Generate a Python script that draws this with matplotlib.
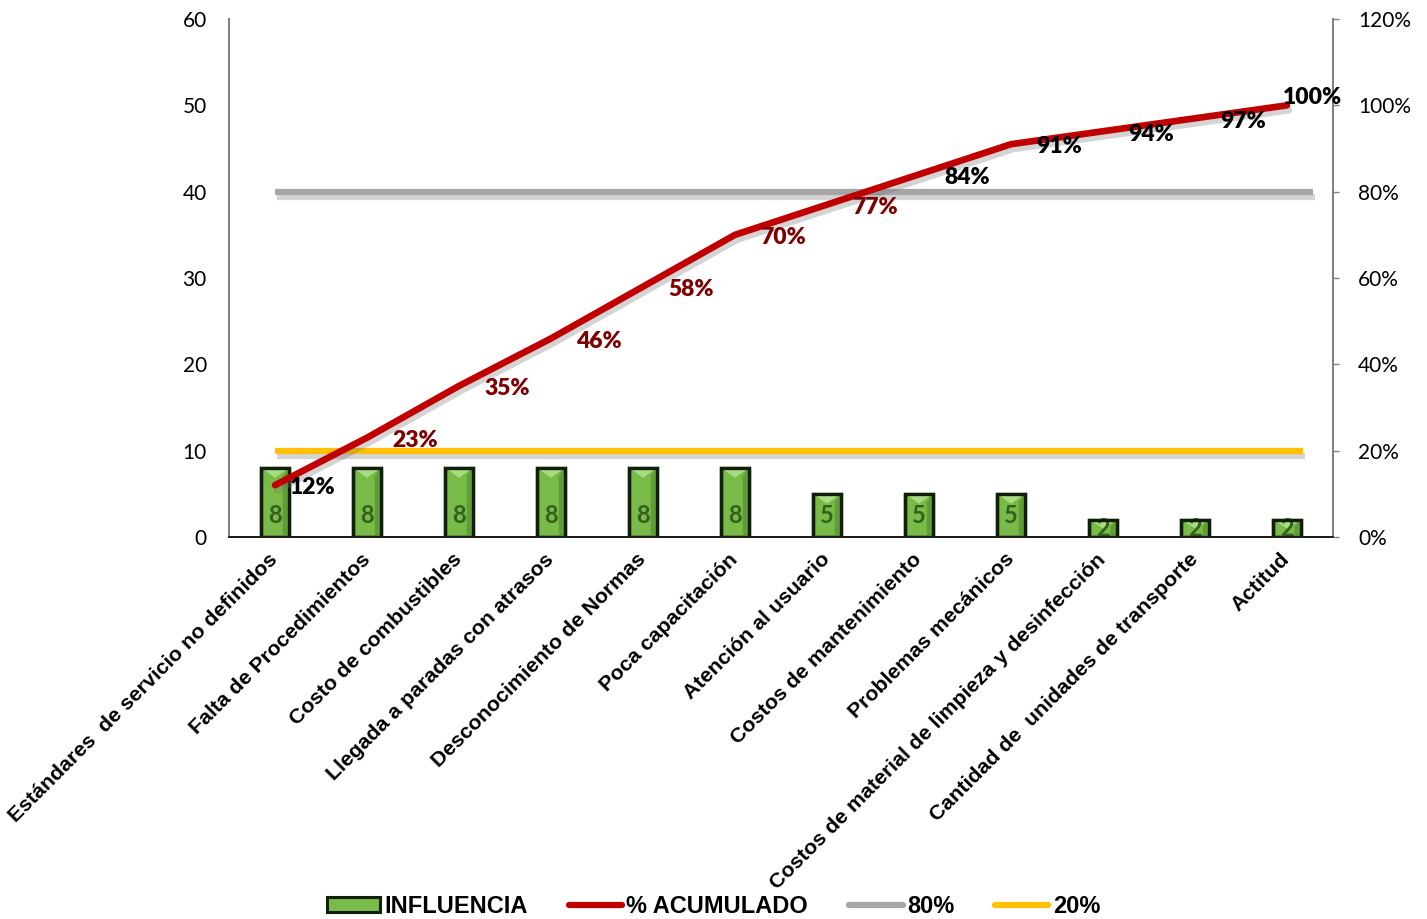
import numpy as np
import matplotlib
matplotlib.use("Agg")
import matplotlib.pyplot as plt
from matplotlib.patches import Polygon, Patch
from matplotlib.lines import Line2D
import matplotlib.patheffects as pe
from matplotlib.ticker import PercentFormatter

# ---- data -------------------------------------------------------------
categorias = [
    "Estándares  de servicio no definidos",
    "Falta de Procedimientos",
    "Costo de combustibles",
    "Llegada a paradas con atrasos",
    "Desconocimiento de Normas",
    "Poca capacitación",
    "Atención al usuario",
    "Costos de mantenimiento",
    "Problemas mecánicos",
    "Costos de material de limpieza y desinfección",
    "Cantidad de  unidades de transporte",
    "Actitud",
]
influencia = [8, 8, 8, 8, 8, 8, 5, 5, 5, 2, 2, 2]
acumulado = [0.12, 0.23, 0.35, 0.46, 0.58, 0.70, 0.77, 0.84, 0.91, 0.94, 0.97, 1.00]
umbral_80 = 0.80
umbral_20 = 0.20
ticks_izq = [0, 10, 20, 30, 40, 50, 60]
ticks_der = [0.0, 0.2, 0.4, 0.6, 0.8, 1.0, 1.2]

# ---- style ------------------------------------------------------------
VERDE = "#78bb48"
VERDE_CLARO = "#a9dc7e"
VERDE_OSCURO = "#5f9e35"
ROJO = "#c00000"
GRIS = "#a6a6a6"
AMARILLO = "#ffc000"
NUM_FONT = "Lato"
TXT_FONT = "Liberation Sans"

fig = plt.figure(figsize=(14.27, 9.19), dpi=100)
ax = fig.add_axes([0.1605, 0.4157, 0.7736, 0.5636])
ax2 = ax.twinx()

x = np.arange(len(categorias))
ax.set_xlim(-0.5, len(categorias) - 0.5)
ax.set_ylim(ticks_izq[0], ticks_izq[-1])
ax2.set_ylim(ticks_der[0], ticks_der[-1])

# ---- bars with a bevel look -----------------------------------------------
bw = 0.3
bars = ax.bar(x, influencia, width=bw, color=VERDE, edgecolor="#0f1f0a",
              linewidth=2.4, zorder=2)
for rect, v in zip(bars, influencia):
    x0 = rect.get_x()
    x1 = x0 + rect.get_width()
    xc = x0 + rect.get_width() / 2
    top = rect.get_height()
    d = min(1.15, 0.5 * top)
    ax.add_patch(Polygon([(x1 - 0.22 * bw, top - d * 0.8), (x1, top), (x1, 0),
                          (x1 - 0.22 * bw, 0.25 * d)],
                         closed=True, facecolor=VERDE_OSCURO, edgecolor="none",
                         zorder=2.1))
    ax.add_patch(Polygon([(x0, top), (x1, top), (xc, top - d)], closed=True,
                         facecolor=VERDE_CLARO, edgecolor="none", zorder=2.2))
    # redraw outline on top of the bevel
    ax.add_patch(Polygon([(x0, 0), (x0, top), (x1, top), (x1, 0)], closed=True,
                         facecolor="none", edgecolor="#0f1f0a", linewidth=2.4,
                         zorder=2.3))
    t = ax.text(xc, min(v / 2, 2.5), f"{v}", ha="center", va="center",
                fontsize=17, fontweight="bold", family=NUM_FONT, color="#33601c",
                zorder=2.25)
    t.set_clip_path(rect)

# ---- threshold and cumulative lines ---------------------------------------
sombra = [pe.SimpleLineShadow(offset=(1.5, -3.5), shadow_color="0.45", alpha=0.3),
          pe.Normal()]
ax2.hlines(umbral_80, x[0], x[-1] + 0.28, color=GRIS, linewidth=4.5,
           path_effects=sombra, zorder=3)
ax2.hlines(umbral_20, x[0], x[-1] + 0.17, color=AMARILLO, linewidth=4.5,
           path_effects=sombra, zorder=3)
ax2.plot(x, acumulado, color=ROJO, linewidth=4.8, solid_capstyle="round",
         solid_joinstyle="round", path_effects=sombra, zorder=4)

# data labels for the cumulative percentage
offsets = {0: (11, -2), len(acumulado) - 1: (-3, 6)}
for i, v in enumerate(acumulado):
    dx, dy = offsets.get(i, (18, -2))
    col = "#7f0000" if 1 <= i <= 6 else "black"
    ax2.annotate(f"{round(v * 100)}%", (x[i], v), xytext=(dx, dy),
                 textcoords="offset points", ha="left", va="center",
                 fontsize=16.5, fontweight="heavy", family=NUM_FONT, color=col,
                 zorder=5)

# ---- axes -----------------------------------------------------------------
ax.set_yticks(ticks_izq)
ax.tick_params(axis="y", length=0, pad=16, labelsize=15)
for lab in ax.get_yticklabels():
    lab.set_family(NUM_FONT)

ax2.set_yticks(ticks_der)
ax2.yaxis.set_major_formatter(PercentFormatter(1.0, decimals=0))
ax2.tick_params(axis="y", direction="out", length=4, width=1, color="#808080",
                pad=14, labelsize=15)
for lab in ax2.get_yticklabels():
    lab.set_family(NUM_FONT)

ax.set_xticks(x)
ax.set_xticklabels(categorias, rotation=45, ha="right", va="center",
                   rotation_mode="anchor", fontsize=15.3, fontweight="bold",
                   family=TXT_FONT)
ax.tick_params(axis="x", length=0, pad=14)

for a in (ax, ax2):
    a.spines["top"].set_visible(False)
    a.spines["left"].set_color("#808080")
    a.spines["right"].set_color("#808080")
    a.spines["left"].set_linewidth(1.3)
    a.spines["right"].set_linewidth(1.3)
    a.spines["bottom"].set_color("#1a1a1a")
    a.spines["bottom"].set_linewidth(1.3)

# ---- legend ---------------------------------------------------------------
handles = [
    Patch(facecolor=VERDE, edgecolor="#0f1f0a", linewidth=2.2),
    Line2D([], [], color=ROJO, linewidth=4.5, solid_capstyle="round"),
    Line2D([], [], color=GRIS, linewidth=4.5, solid_capstyle="round"),
    Line2D([], [], color=AMARILLO, linewidth=4.5, solid_capstyle="round"),
]
labels = ["INFLUENCIA", "% ACUMULADO", "80%", "20%"]
fig.legend(handles, labels, loc="center", bbox_to_anchor=(0.5, 0.014),
           ncol=4, frameon=False, handlelength=2.25, handleheight=0.6,
           handletextpad=0.18, columnspacing=1.75,
           prop={"family": TXT_FONT, "weight": "bold", "size": 17})

fig.savefig("out.png", dpi=100)
